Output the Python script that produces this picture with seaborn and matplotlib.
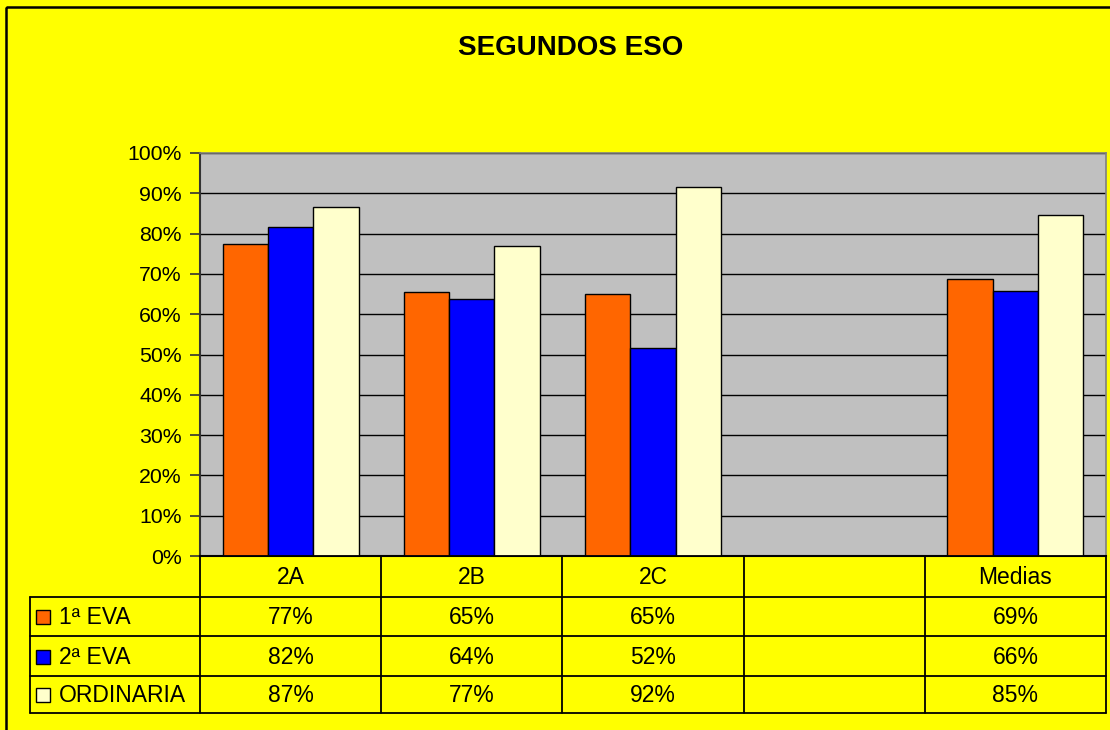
import numpy as np
import pandas as pd
import matplotlib
matplotlib.use("Agg")
import matplotlib.pyplot as plt
from matplotlib.patches import Rectangle
from matplotlib.lines import Line2D
import seaborn as sns

# Datos
categorias = ["2A", "2B", "2C", "", "Medias"]
series = ["1ª EVA", "2ª EVA", "ORDINARIA"]
eva1 = [77.3, 65.4, 65.0, np.nan, 68.8]
eva2 = [81.7, 63.8, 51.7, np.nan, 65.7]
ordinaria = [86.7, 76.9, 91.6, np.nan, 84.7]
colores = ["#FF6600", "#0000FF", "#FFFFCC"]

valores = {"1ª EVA": eva1, "2ª EVA": eva2, "ORDINARIA": ordinaria}
filas = []
for s in series:
    for c, v in zip(categorias, valores[s]):
        filas.append({"categoria": c, "serie": s, "valor": v})
df = pd.DataFrame(filas)

sns.set_style("white")
plt.rcParams["font.family"] = ["Liberation Sans", "DejaVu Sans"]
plt.rcParams["text.color"] = "black"
plt.rcParams["ytick.color"] = "black"

W, H = 1110, 730
fig = plt.figure(figsize=(W / 100, H / 100), dpi=100, facecolor="#FFFF00")

# Área del gráfico (coordenadas en píxeles)
x0, x1 = 200, 1106
y_top, y_bot = 153, 556
ax = fig.add_axes([x0 / W, 1 - y_bot / H, (x1 - x0) / W, (y_bot - y_top) / H])
ax.set_facecolor("#C0C0C0")

sns.barplot(data=df.dropna(), x="categoria", y="valor", hue="serie",
            order=categorias, hue_order=series, palette=colores, saturation=1,
            width=0.75, edgecolor="black", linewidth=1, ax=ax,
            legend=False, errorbar=None, zorder=3)

ax.set_xlim(-0.5, len(categorias) - 0.5)
ax.set_ylim(0, 100)
ax.set_yticks(range(0, 101, 10))
ax.set_yticklabels([f"{t}%" for t in range(0, 101, 10)], fontsize=15.3, color="black")
ax.set_xticks([])
ax.set_xlabel("")
ax.set_ylabel("")
ax.yaxis.grid(True, color="black", linewidth=1, zorder=0)
ax.set_axisbelow(True)
ax.tick_params(axis="y", direction="out", length=7, width=1.2, color="#333333", pad=6, left=True)
for lado in ["top", "right"]:
    ax.spines[lado].set_color("#808080")
    ax.spines[lado].set_linewidth(1.2)
ax.spines["left"].set_color("#333333")
ax.spines["left"].set_linewidth(1.5)
ax.spines["bottom"].set_color("black")
ax.spines["bottom"].set_linewidth(1.5)

# Título
fig.text(571 / W, 1 - 48 / H, "SEGUNDOS ESO", ha="center", va="center",
         fontsize=20, fontweight="bold", color="black")

# Tabla de datos
t_left, t_bot = 30, 713
axt = fig.add_axes([0, 0, 1, 1], facecolor="none")
axt.set_xlim(0, W)
axt.set_ylim(H, 0)
axt.axis("off")

n = len(categorias)
colw = (x1 - x0) / n
bordes = [x0 + i * colw for i in range(n + 1)]
filas_y = [y_bot, 597, 636, 676, t_bot]
fs_tabla = 16.5

lw = 1.3
# horizontales
axt.add_line(Line2D([x0, x1], [y_bot, y_bot], color="black", lw=lw))
for yy in filas_y[1:]:
    axt.add_line(Line2D([t_left, x1], [yy, yy], color="black", lw=lw))
# verticales
for xx in bordes:
    axt.add_line(Line2D([xx, xx], [y_bot, t_bot], color="black", lw=lw))
axt.add_line(Line2D([t_left, t_left], [filas_y[1], t_bot], color="black", lw=lw))

# encabezados de categoría
for i, c in enumerate(categorias):
    axt.text((bordes[i] + bordes[i + 1]) / 2, (filas_y[0] + filas_y[1]) / 2 + 1, c,
             ha="center", va="center", fontsize=fs_tabla, color="black")

# filas de series
for j, s in enumerate(series):
    yc = (filas_y[j + 1] + filas_y[j + 2]) / 2 + 1
    axt.add_patch(Rectangle((36, yc - 7.5), 14, 14, facecolor=colores[j],
                            edgecolor="black", lw=1))
    axt.text(59, yc, s, ha="left", va="center", fontsize=fs_tabla, color="black")
    for i, v in enumerate(valores[s]):
        if not np.isnan(v):
            axt.text((bordes[i] + bordes[i + 1]) / 2, yc, f"{round(v)}%",
                     ha="center", va="center", fontsize=fs_tabla, color="black")

# Borde exterior (solo se ven el lado superior e izquierdo)
axt.add_patch(Rectangle((6, 7), 1130, 740, facecolor="none", edgecolor="black",
                        lw=1.8, clip_on=False))

fig.savefig("out.png", dpi=100, facecolor=fig.get_facecolor())
